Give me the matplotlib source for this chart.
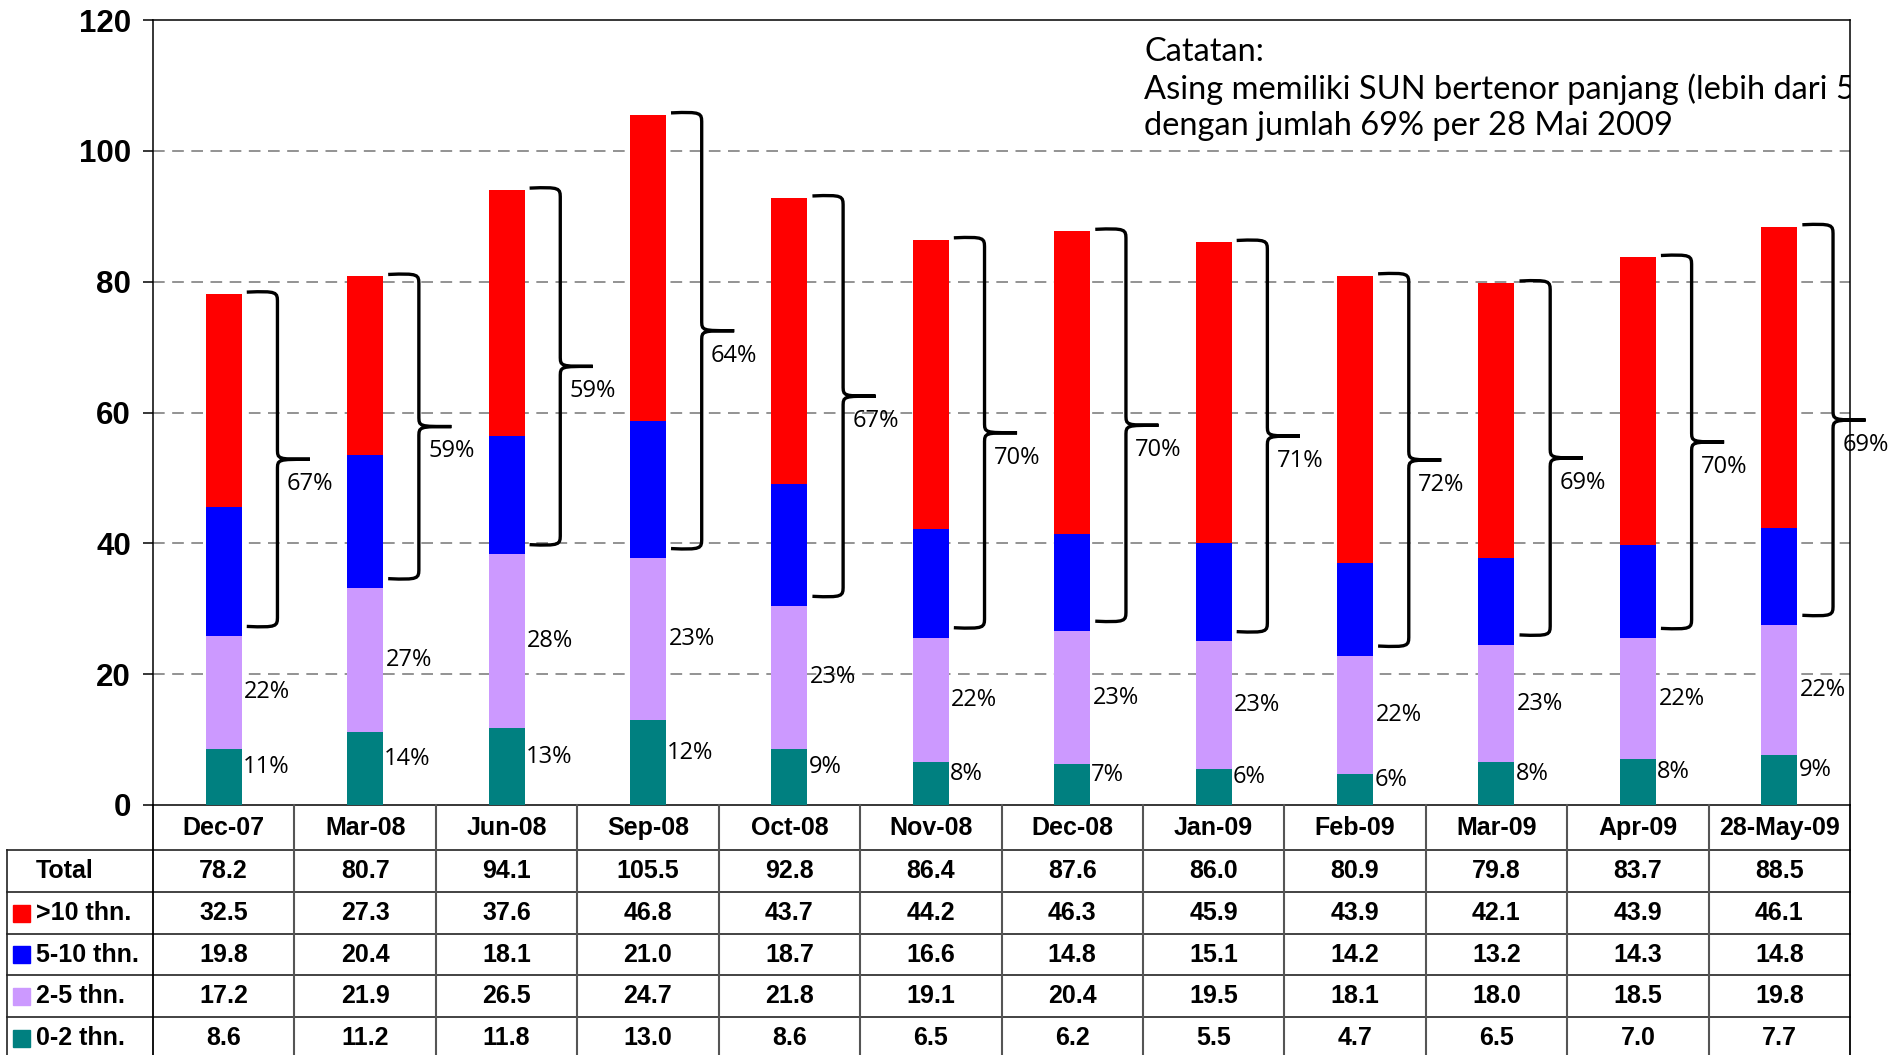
import matplotlib
matplotlib.use("Agg")
import matplotlib.pyplot as plt
from matplotlib.path import Path
from matplotlib.patches import PathPatch, Rectangle
import numpy as np

categories = ["Dec-07", "Mar-08", "Jun-08", "Sep-08", "Oct-08", "Nov-08",
              "Dec-08", "Jan-09", "Feb-09", "Mar-09", "Apr-09", "28-May-09"]
total = [78.2, 80.7, 94.1, 105.5, 92.8, 86.4, 87.6, 86.0, 80.9, 79.8, 83.7, 88.5]
gt10 = [32.5, 27.3, 37.6, 46.8, 43.7, 44.2, 46.3, 45.9, 43.9, 42.1, 43.9, 46.1]
y5_10 = [19.8, 20.4, 18.1, 21.0, 18.7, 16.6, 14.8, 15.1, 14.2, 13.2, 14.3, 14.8]
y2_5 = [17.2, 21.9, 26.5, 24.7, 21.8, 19.1, 20.4, 19.5, 18.1, 18.0, 18.5, 19.8]
y0_2 = [8.6, 11.2, 11.8, 13.0, 8.6, 6.5, 6.2, 5.5, 4.7, 6.5, 7.0, 7.7]
series_names = [">10 thn.", "5-10 thn.", "2-5 thn.", "0-2 thn."]
colors = {"0-2": "#008080", "2-5": "#CC99FF", "5-10": "#0000FF", ">10": "#FF0000"}
yticks = [0, 20, 40, 60, 80, 100, 120]
note = "Catatan:\nAsing memiliki SUN bertenor panjang (lebih dari 5 tahun)\ndengan jumlah 69% per 28 Mai 2009"

W, H = 1890, 1055
fig = plt.figure(figsize=(W / 100, H / 100), dpi=100)
L, R, T, B = 153, 1850, 20, 805
ax = fig.add_axes([L / W, 1 - B / H, (R - L) / W, (B - T) / H])

x = np.arange(len(categories))
a = np.array(y0_2); b = np.array(y2_5); c = np.array(y5_10); d = np.array(gt10)
bw = 0.255
ax.bar(x, a, bw, color=colors["0-2"], zorder=3)
ax.bar(x, b, bw, bottom=a, color=colors["2-5"], zorder=3)
ax.bar(x, c, bw, bottom=a + b, color=colors["5-10"], zorder=3)
ax.bar(x, d, bw, bottom=a + b + c, color=colors[">10"], zorder=3)

ax.set_xlim(-0.5, len(categories) - 0.5)
ax.set_ylim(0, 120)
ax.set_yticks(yticks)
ax.set_yticklabels([str(v) for v in yticks], fontsize=22.5, fontweight="bold",
                   family="Liberation Sans")
ax.set_xticks([])
ax.tick_params(axis="y", length=7, width=1.1, direction="out", pad=9)
for v in yticks[1:-1]:
    ax.axhline(v, color="#808080", lw=1.2, ls=(0, (7, 4.5)), zorder=1)
for s in ax.spines.values():
    s.set_color("black"); s.set_linewidth(1.1)

pfont = dict(family="Open Sans", fontsize=17, color="black")
for i in range(len(categories)):
    tot = total[i]
    ax.text(i + 0.135, a[i] / 2 + 1.5, f"{round(y0_2[i] / tot * 100 + 1e-9):.0f}%",
            ha="left", va="center", clip_on=False, **pfont)
    ax.text(i + 0.145, a[i] + b[i] / 2, f"{round(y2_5[i] / tot * 100 + 1e-9):.0f}%",
            ha="left", va="center", clip_on=False, **pfont)
    top = a[i] + b[i] + c[i] + d[i] + 0.3
    bot = a[i] + b[i] + 1.5
    mid = (top + bot) / 2
    x0, xs, xt = i + 0.163, i + 0.38, i + 0.61
    r = 1.6
    verts = [(x0, top), (xs, top + 0.2), (xs, top), (xs, top - r),
             (xs, mid + r),
             (xs, mid), (xs, mid), (xt, mid),
             (xs, mid), (xs, mid), (xs, mid - r),
             (xs, bot + r),
             (xs, bot), (xs, bot - 0.2), (x0, bot)]
    codes = [Path.MOVETO, Path.CURVE4, Path.CURVE4, Path.CURVE4,
             Path.LINETO,
             Path.CURVE4, Path.CURVE4, Path.CURVE4,
             Path.CURVE4, Path.CURVE4, Path.CURVE4,
             Path.LINETO,
             Path.CURVE4, Path.CURVE4, Path.CURVE4]
    ax.add_patch(PathPatch(Path(verts, codes), fill=False, lw=2.4,
                           edgecolor="black", zorder=4, clip_on=False))
    pct = (y5_10[i] + gt10[i]) / tot * 100
    ax.text(i + 0.445, mid - 3.8, f"{round(pct):.0f}%", ha="left", va="center",
            clip_on=False, **pfont)

ax.text(0.584, 0.978, note, transform=ax.transAxes, ha="left", va="top",
        fontsize=23.5, family="Lato", linespacing=1.25,
        clip_on=True, zorder=5)

# Table
tx = fig.add_axes([7 / W, 0, (R - 7) / W, 1 - B / H])
ncol = len(categories)
xl = ncol - 0.5 - (R - 7) / ((R - L) / ncol)
tx.set_xlim(xl, ncol - 0.5)
tx.set_ylim(H, B)
tx.axis("off")
rows = [850, 892, 934, 975, 1017, 1059]
lc = "#222222"
for yy in rows[:-1]:
    tx.plot([xl, ncol - 0.5], [yy, yy], color=lc, lw=1.2, clip_on=False)
for j in range(ncol + 1):
    tx.plot([j - 0.5, j - 0.5], [B, H], color=("black" if j in (0, ncol) else "#555555"),
            lw=1.3 if j in (0, ncol) else 1.5, clip_on=False)
tx.plot([xl, xl], [850, H], color=lc, lw=1.2, clip_on=False)
tfont = dict(family="Liberation Sans", fontweight="bold", fontsize=18)
for j, cat in enumerate(categories):
    tx.text(j, 828, cat, ha="center", va="center", **tfont)
table_rows = [("Total", total, None), (series_names[0], gt10, colors[">10"]),
              (series_names[1], y5_10, colors["5-10"]), (series_names[2], y2_5, colors["2-5"]),
              (series_names[3], y0_2, colors["0-2"])]
px = (R - L) / ncol
for k, (name, vals, col) in enumerate(table_rows):
    yc = (rows[k] + rows[k + 1]) / 2
    if col is not None:
        tx.add_patch(Rectangle((xl + 6 / px, yc - 8.5), 17 / px, 17, color=col, clip_on=False))
    tx.text(xl + 29 / px, yc, name, ha="left", va="center", **tfont)
    for j, v in enumerate(vals):
        tx.text(j, yc, f"{v:.1f}", ha="center", va="center", **tfont)

fig.savefig("out.png", dpi=100)
